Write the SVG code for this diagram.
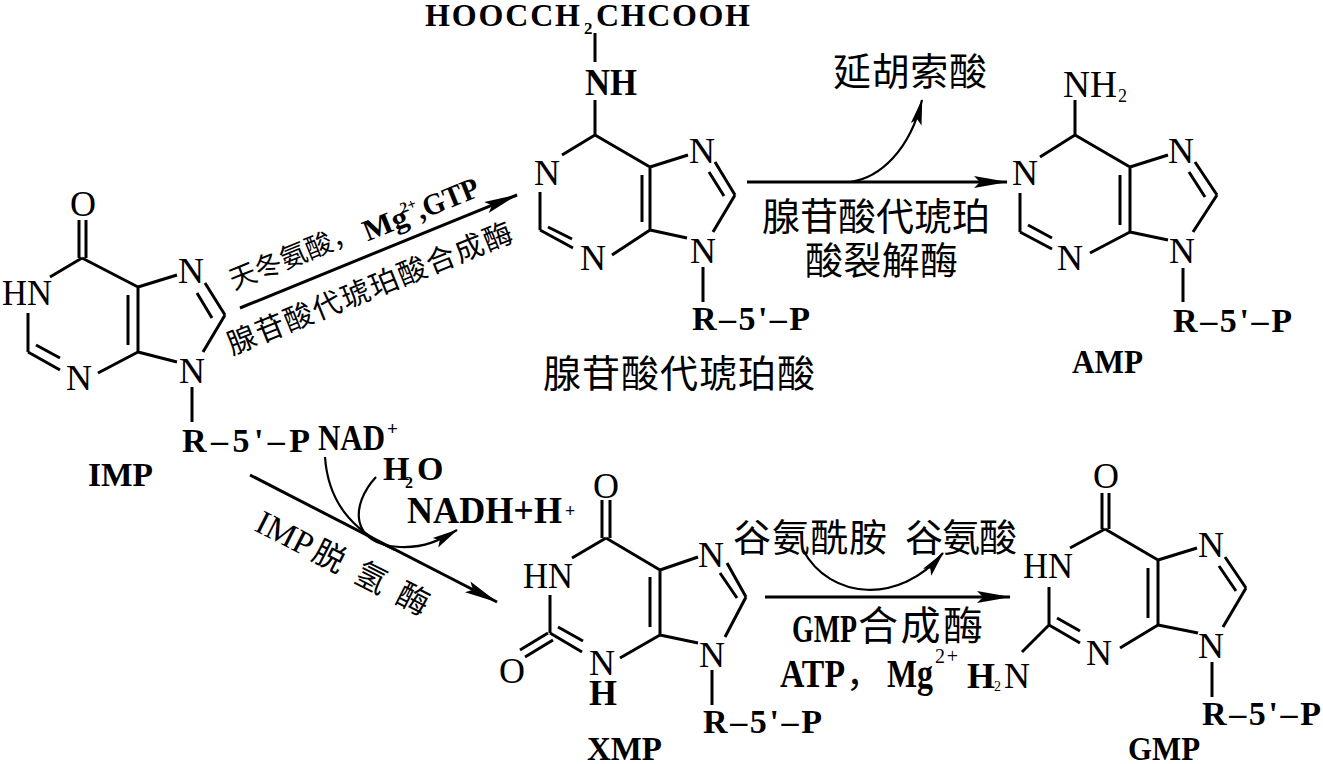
<svg xmlns="http://www.w3.org/2000/svg" width="1323" height="764" viewBox="0 0 1323 764">
<defs>
<style>
.bd{stroke:#000;stroke-width:3;fill:none}
.ln{stroke:#000;stroke-width:3;fill:none}
.cv{stroke:#000;stroke-width:2.2;fill:none}
text{fill:#000}
.a{font-family:"Liberation Serif",serif;font-size:36px;text-anchor:middle}
.l{font-family:"Liberation Serif",serif;font-size:36px}
.b{font-family:"Liberation Serif",serif;font-size:34px;font-weight:bold}
.c{font-family:"Noto Sans CJK SC",sans-serif;font-size:38px}
.s{font-family:"Liberation Serif",serif;font-size:18px;font-weight:bold}
</style>
<marker id="ah" markerUnits="userSpaceOnUse" viewBox="0 0 34 14" markerWidth="34" markerHeight="14" refX="33" refY="7" orient="auto"><path d="M0,1 L34,7 L0,13 L6,7 Z" fill="#000"/></marker>
<marker id="ahs" markerUnits="userSpaceOnUse" viewBox="0 0 26 12" markerWidth="26" markerHeight="12" refX="25" refY="6" orient="auto"><path d="M0,0.5 L26,6 L0,11.5 L5,6 Z" fill="#000"/></marker>
</defs>
<rect width="1323" height="764" fill="#fff"/>

<g id="IMP">
<path class="bd" d="M79,220V258M86,220V258M50,277L82,258M82,258L138,287M138,287V352M128,295V345M138,287L177,275M205,283L225,315M197,293L212,318M225,315L203,352M138,352L177,362M192,387V422M28,313V352M28,352L60,370M36,345L60,358M98,373L138,352"/>
<text class="a" x="83" y="216">O</text>
<text class="l" x="2" y="305" textLength="50" lengthAdjust="spacingAndGlyphs">HN</text>
<text class="a" x="191" y="283">N</text>
<text class="a" x="192" y="383">N</text>
<text class="a" x="79" y="390">N</text>
<text class="b" x="182" y="452" textLength="128">R–5'–P</text>
<text class="b" x="88" y="486" textLength="65" lengthAdjust="spacingAndGlyphs">IMP</text>
</g>

<g id="adenylosuccinate">
<path class="bd" d="M595,33V62M595,100V135M595,135L562,155M540,192V230M540,230L573,248M548,227L572,239M612,255L650,230M650,167V230M642,175V222M595,135L650,167M650,167L688,155M715,162L735,195M709,172L724,196M735,195L713,232M650,230L687,238M703,267V302"/>
<text class="b" x="425" y="26" textLength="155" style="font-size:32px">HOOCCH</text>
<text class="s" x="584" y="34" style="font-size:17px">2</text>
<text class="b" x="596" y="26" textLength="154" style="font-size:32px">CHCOOH</text>
<text class="b" x="585" y="95" textLength="52" lengthAdjust="spacingAndGlyphs" style="font-size:37px">NH</text>
<text class="a" x="547" y="185">N</text>
<text class="a" x="593" y="270">N</text>
<text class="a" x="702" y="163">N</text>
<text class="a" x="703" y="263">N</text>
<text class="b" x="692" y="330" textLength="118">R–5'–P</text>
<text class="c" x="543" y="387" textLength="272">腺苷酸代琥珀酸</text>
</g>

<g id="AMP">
<path class="bd" d="M1075,100V135M1075,135L1040,157M1020,193V232M1020,232L1052,249M1028,225L1052,238M1090,253L1130,232M1130,167V232M1120,175V225M1075,135L1130,167M1130,167L1168,155M1195,162L1217,195M1189,172L1205,197M1217,195L1193,232M1130,232L1168,240M1183,268V302"/>
<text class="l" x="1063" y="97" textLength="54" lengthAdjust="spacingAndGlyphs" style="font-size:38px">NH</text>
<text class="s" x="1118" y="102" style="font-weight:normal">2</text>
<text class="a" x="1025" y="185">N</text>
<text class="a" x="1070" y="270">N</text>
<text class="a" x="1181" y="163">N</text>
<text class="a" x="1182" y="263">N</text>
<text class="b" x="1173" y="332" textLength="119">R–5'–P</text>
<text class="b" x="1072" y="373" textLength="71" lengthAdjust="spacingAndGlyphs">AMP</text>
</g>

<g id="XMP">
<path class="bd" d="M602,500V538M610,500V538M606,538L572,558M550,595V633M548,633L520,650M553,640L525,657M550,633L582,652M558,627L583,641M620,658L660,635M660,570V635M650,577V627M606,538L660,570M660,570L698,557M727,563L746,597M720,573L737,598M746,597L725,637M660,635L698,643M712,670V705"/>
<text class="a" x="606" y="498">O</text>
<text class="l" x="523" y="588" textLength="50" lengthAdjust="spacingAndGlyphs">HN</text>
<text class="a" x="512" y="683">O</text>
<text class="a" x="602" y="675">N</text>
<text class="a" x="603" y="705" style="font-weight:bold">H</text>
<text class="a" x="711" y="567">N</text>
<text class="a" x="712" y="667">N</text>
<text class="b" x="703" y="733" textLength="119">R–5'–P</text>
<text class="b" x="587" y="760" textLength="75" lengthAdjust="spacingAndGlyphs">XMP</text>
</g>

<g id="GMP">
<path class="bd" d="M1102,493V529M1109,493V529M1105,529L1070,548M1049,587V625M1049,625L1080,643M1057,618L1080,631M1120,648L1158,625M1158,560V625M1148,568V618M1105,529L1158,560M1158,560L1197,548M1225,557L1246,588M1219,566L1236,591M1246,588L1223,627M1158,625L1198,633M1212,662V697M1049,625L1022,652"/>
<text class="a" x="1106" y="488">O</text>
<text class="l" x="1023" y="578" textLength="50" lengthAdjust="spacingAndGlyphs">HN</text>
<text class="a" x="1099" y="665">N</text>
<text class="a" x="1211" y="557">N</text>
<text class="a" x="1211" y="658">N</text>
<text class="b" x="967" y="688" style="font-size:36px">H</text>
<text class="s" x="994" y="691" style="font-size:14px;font-weight:normal">2</text>
<text class="l" x="1004" y="688">N</text>
<text class="b" x="1202" y="725" textLength="119">R–5'–P</text>
<text class="b" x="1128" y="760" textLength="72" lengthAdjust="spacingAndGlyphs">GMP</text>
</g>

<g id="connectors">
<path class="ln" d="M240,308L517,195" marker-end="url(#ah)"/>
<path class="ln" d="M747,182L1007,182" marker-end="url(#ah)"/>
<path class="cv" d="M850,182C880,178 910,150 922,100" marker-end="url(#ahs)"/>
<path class="ln" d="M250,475L497,602" marker-end="url(#ah)"/>
<path class="cv" d="M325,457C328,500 350,530 395,550"/>
<path class="cv" d="M376,477C350,505 350,545 400,547C425,548 440,540 457,530" marker-end="url(#ahs)"/>
<path class="ln" d="M765,597L1010,597" marker-end="url(#ah)"/>
<path class="cv" d="M803,550C830,600 900,605 943,553" marker-end="url(#ahs)"/>
</g>

<g id="labels">
<g transform="translate(234,290) rotate(-22)">
<text class="c" x="0" y="0" textLength="136" style="font-size:27px">天冬氨酸，</text>
<text class="b" x="142" y="5" textLength="46" lengthAdjust="spacingAndGlyphs" style="font-size:30px">Mg</text>
<text class="s" x="185" y="-8" style="font-size:15px">2+</text>
<text class="b" x="199" y="5" textLength="66" lengthAdjust="spacingAndGlyphs" style="font-size:30px">,GTP</text>
</g>
<g transform="translate(232,355) rotate(-22)">
<text class="c" x="0" y="0" textLength="305" style="font-size:29px">腺苷酸代琥珀酸合成酶</text>
</g>
<g transform="translate(253,530) rotate(27)">
<text class="b" x="0" y="0" textLength="60" lengthAdjust="spacingAndGlyphs" style="font-size:34px;font-weight:normal">IMP</text>
<text class="c" x="64" y="0" textLength="126" style="font-size:32px">脱氢酶</text>
</g>
<text class="c" x="833" y="85" textLength="154">延胡索酸</text>
<text class="c" x="762" y="230" textLength="228">腺苷酸代琥珀</text>
<text class="c" x="805" y="274" textLength="153">酸裂解酶</text>
<text class="b" x="318" y="450" textLength="67" lengthAdjust="spacingAndGlyphs" style="font-size:36px">NAD</text>
<text class="s" x="387" y="435" style="font-size:19px">+</text>
<text class="b" x="383" y="480" style="font-size:34px">H</text>
<text class="s" x="405" y="488" style="font-size:16px">2</text>
<text class="b" x="417" y="480" style="font-size:34px">O</text>
<text class="b" x="407" y="523" textLength="155" lengthAdjust="spacingAndGlyphs" style="font-size:38px">NADH+H</text>
<text class="s" x="565" y="517" style="font-size:18px">+</text>
<text class="c" x="733" y="551" textLength="154">谷氨酰胺</text>
<text class="c" x="905" y="551" textLength="112">谷氨酸</text>
<text class="b" x="792" y="642" textLength="65" lengthAdjust="spacingAndGlyphs" style="font-size:40px">GMP</text>
<text class="c" x="858" y="640" textLength="125" style="font-size:40px">合成酶</text>
<text class="b" x="780" y="687" textLength="65" lengthAdjust="spacingAndGlyphs" style="font-size:40px">ATP</text>
<text class="c" x="846" y="687" style="font-size:36px">，</text>
<text class="b" x="887" y="687" textLength="46" lengthAdjust="spacingAndGlyphs" style="font-size:40px">Mg</text>
<text class="s" x="935" y="663" textLength="23" style="font-size:20px;font-weight:normal">2+</text>
</g>
</svg>
